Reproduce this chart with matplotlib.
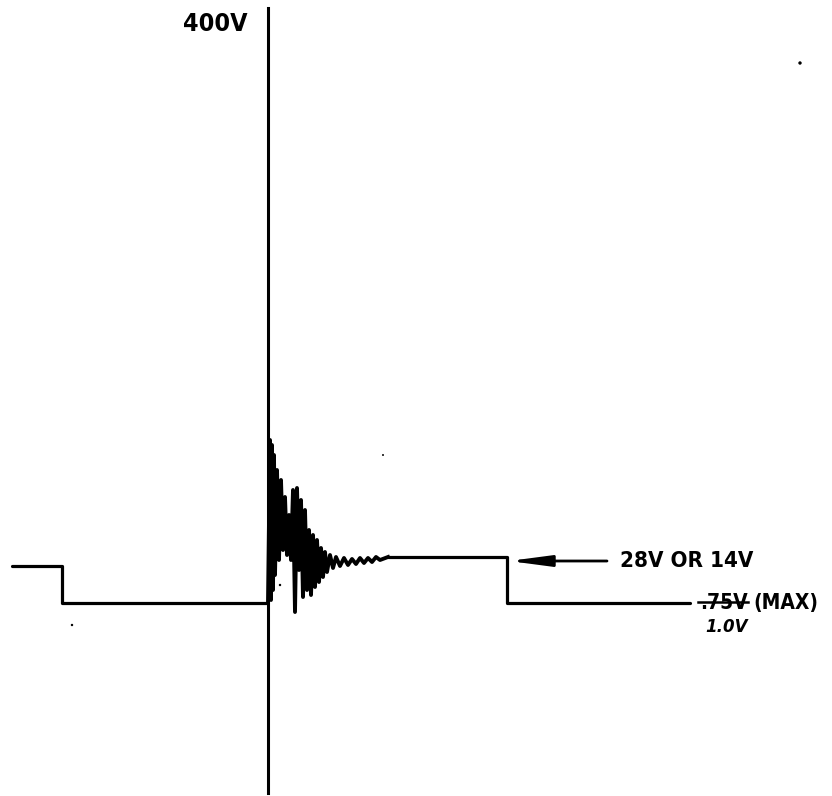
import matplotlib
matplotlib.use('Agg')
import matplotlib.pyplot as plt
from matplotlib.lines import Line2D
from matplotlib import font_manager as fm

# time axis (arbitrary units, spike at t=0) and level (arbitrary sketch units, 0 = low level)
pre_t = [-256, -206, -206, 0]
pre_v = [37, 37, 0, 0]

spike_t = [0, 0]
spike_v = [595, -190]

ring_t = [0, 2, 3, 4, 5, 6, 7, 9, 11, 13, 15, 17, 19, 21, 23, 25, 27, 29, 31, 33,
          35, 37, 39, 41, 43, 45, 47, 49, 51, 53, 55, 57, 59, 62, 65, 68, 72, 76, 80, 84,
          88, 92, 96, 100, 104, 108, 112, 120]
ring_v = [0, 163, 3, 158, 13, 148, 28, 133, 43, 123, 53, 106, 48, 88, 43, 113, -9, 115, 33, 103,
          6, 93, 13, 73, 8, 68, 16, 63, 21, 55, 26, 51, 31, 48, 35, 46, 37, 45, 38, 44,
          39, 45, 40, 45, 41, 46, 43, 46]

post_t = [120, 239, 239, 422]
post_v = [46, 46, 0, 0]

arrow_tip = (241, 42)
arrow_tail = (339, 42)

# scan specks
speck_t = [532, -196, 115, 12]
speck_v = [540, -22, 148, 18]

label_top = '400V'
label_supply = '28V OR 14V'
label_old = '.75V'
label_max = '(MAX)'
label_new = '1.0V'


def narrow_bold():
    # look for a condensed/narrow bold face, else plain bold DejaVu
    found = []
    for f in fm.fontManager.ttflist:
        key = (f.name + ' ' + f.fname).lower()
        if ('narrow' in key or 'condensed' in key) and 'italic' not in key and 'oblique' not in key:
            w = f.weight if isinstance(f.weight, int) else 400
            if w >= 600 or 'bold' in key:
                found.append(f)
    order = ['liberation', 'dejavu', 'roboto', 'open', 'noto', 'lato']
    for o in order:
        for f in found:
            if o in f.name.lower():
                return fm.FontProperties(fname=f.fname)
    if found:
        return fm.FontProperties(fname=found[0].fname)
    return fm.FontProperties(family='DejaVu Sans', weight='bold', stretch='condensed')


fp = narrow_bold()

fig = plt.figure(figsize=(8.32, 7.96), dpi=100)
ax = fig.add_axes([0, 0, 1, 1])
ax.set_xlim(-268, 564)
ax.set_ylim(-193, 603)
ax.axis('off')

ink = '#000000'
ax.plot(pre_t, pre_v, color=ink, lw=2.3, solid_joinstyle='round', solid_capstyle='round')
ax.plot(spike_t, spike_v, color=ink, lw=2.2)
ax.plot(ring_t, ring_v, color=ink, lw=2.8, solid_joinstyle='round')
ax.plot(post_t, post_v, color=ink, lw=2.3, solid_joinstyle='round', solid_capstyle='round')
ax.scatter(speck_t, speck_v, s=[6, 3, 2, 3], color=ink, lw=0)

ax.annotate('', xy=arrow_tip, xytext=arrow_tail,
            arrowprops=dict(arrowstyle='-|>,head_length=2.5,head_width=0.33',
                            color=ink, lw=2.0, shrinkA=0, shrinkB=0))

ax.text(-21, 579, label_top, ha='right', va='center', fontproperties=fp, fontsize=18, color=ink)
ax.text(352, 42, label_supply, ha='left', va='center', fontproperties=fp, fontsize=16, color=ink)
t_old = ax.text(432, 0, label_old, ha='left', va='center', fontproperties=fp, fontsize=15, color=ink)
ax.annotate(label_max, xy=(1, 0.5), xycoords=t_old, xytext=(4, 0), textcoords='offset points',
            ha='left', va='center', fontproperties=fp, fontsize=15, color=ink)
ax.text(437, -24, label_new, ha='left', va='center', fontsize=12,
        family='DejaVu Sans', style='italic', weight='bold', color=ink)

# strike through the old value
fig.canvas.draw()
bb = t_old.get_window_extent().transformed(fig.transFigure.inverted())
ymid = bb.y0 + 0.56 * bb.height
fig.add_artist(Line2D([bb.x0 - 0.003, bb.x1], [ymid, ymid], transform=fig.transFigure,
                      color=ink, lw=1.8))

fig.savefig('out.png', dpi=100, facecolor='white')
